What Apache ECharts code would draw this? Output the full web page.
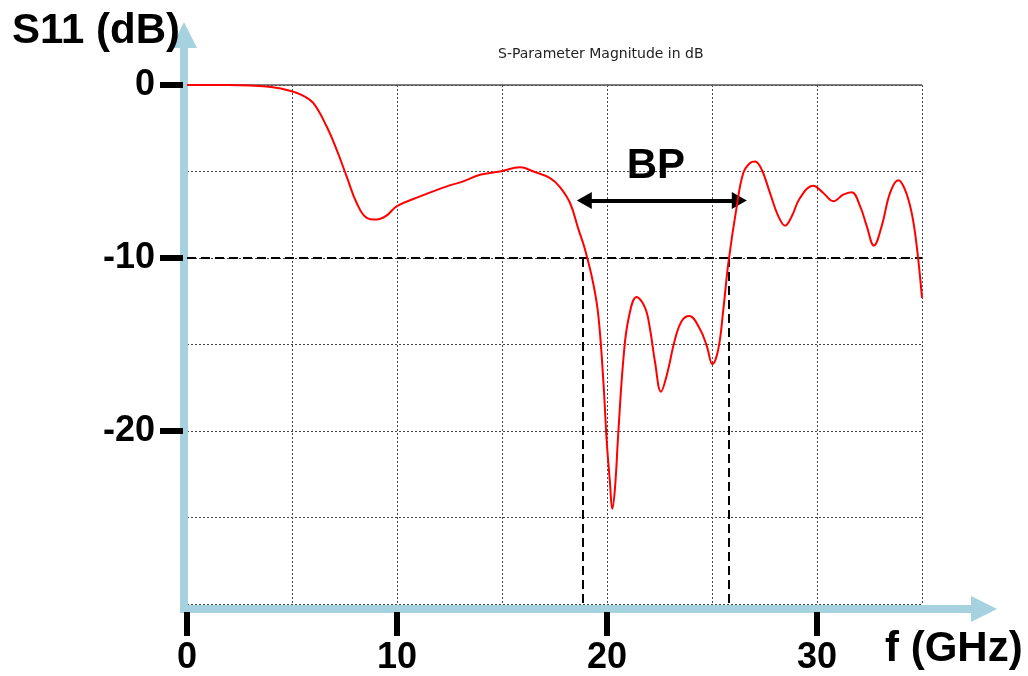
<!DOCTYPE html>
<html>
<head>
<meta charset="utf-8">
<title>S11</title>
<script src="https://cdn.jsdelivr.net/npm/echarts@6.0.0/dist/echarts.min.js"></script>
<style>
  html, body { margin: 0; padding: 0; background: #fff; }
  #chart { width: 1028px; height: 676px; }
</style>
</head>
<body>
<div id="chart"></div>
<script>
// 频率 (GHz)
const freq = [
  0, 1, 2, 3, 4, 4.9, 5.5, 6.02, 6.65, 7.13, 7.6, 8.08, 8.56, 9.03, 9.5, 10.0,
  11.1, 12.37, 13.15, 13.95, 14.9, 15.86, 16.5, 17.29, 17.76, 18.24, 18.63, 18.95,
  19.35, 19.59, 19.83, 19.99, 20.14, 20.25, 20.38, 20.54, 20.78, 21.02, 21.41, 21.81,
  22.05, 22.29, 22.57, 22.84, 23.24, 23.56, 23.92, 24.43, 24.75, 25.02, 25.3, 25.54,
  25.78, 26.18, 26.49, 26.81, 27.05, 27.37, 27.76, 28.16, 28.48, 28.8, 29.19, 29.82,
  30.3, 30.78, 31.25, 31.65, 32.05, 32.37, 32.71, 33.08, 33.48, 33.87, 34.19, 34.51,
  34.75, 35.0
];
// S11 (dB)
const s11 = [
  0, 0, 0, -0.03, -0.12, -0.33, -0.6, -1.05, -2.4, -3.75, -5.28, -6.82, -7.68, -7.78, -7.55, -7.0,
  -6.44, -5.86, -5.57, -5.19, -5.0, -4.76, -5.0, -5.38, -5.9, -6.82, -8.3, -9.5,
  -11.5, -13.35, -17.2, -20.65, -22.96, -24.5, -23.3, -20.07, -15.85, -13.54, -12.25, -12.87,
  -14.12, -16.04, -17.73, -16.8, -14.7, -13.64, -13.35, -14.12, -15.08, -16.14, -15.27, -12.97,
  -10.28, -7.0, -5.09, -4.51, -4.42, -4.9, -6.24, -7.59, -8.13, -7.59, -6.53, -5.82,
  -6.24, -6.72, -6.34, -6.2, -7.0, -8.16, -9.28, -8.16, -6.24, -5.51, -6.05, -7.4,
  -9.32, -12.3
];
// 刻度
const xTicks = [0, 10, 20, 30];
const yTicks = [0, -10, -20];
// -10 dB 参考线 与 通带边界
const refLevel = -10;
const bandEdges = [18.86, 25.81];
// BP 箭头
const bpRange = [18.92, 26.3];
const bpLevel = -6.67;
const bpLabelPos = [22.33, -4.73];

const chart = echarts.init(document.getElementById('chart'));

const blue = '#a6d1df';
const tickFont = {
  fontSize: 36,
  fontWeight: 'bold',
  fontFamily: 'Liberation Sans, Arial, sans-serif',
  color: '#000'
};
const gridLine = { color: '#444', width: 1, type: [2, 2] };
const blackDash = { color: '#000', width: 2, type: [9, 5] };

// 浅蓝色带箭头的坐标轴
const arrowAxis = {
  type: 'value',
  gridIndex: 1,
  min: 0,
  max: 1,
  axisLine: {
    show: true,
    symbol: ['none', 'triangle'],
    symbolSize: [26, 26],
    lineStyle: { color: blue, width: 8, cap: 'square' }
  },
  axisTick: { show: false },
  axisLabel: { show: false },
  splitLine: { show: false }
};

// 只画网格线的坐标轴
function gridAxis(min, max) {
  return {
    type: 'value',
    gridIndex: 0,
    min: min,
    max: max,
    interval: 5,
    axisLine: { show: false, onZero: false },
    axisTick: { show: false },
    axisLabel: { show: false },
    splitLine: { show: true, lineStyle: gridLine }
  };
}

const option = {
  animation: false,
  title: [
    {
      text: 'S-Parameter Magnitude in dB',
      left: 493,
      top: 42,
      textStyle: { fontSize: 14, fontWeight: 'normal', fontFamily: 'DejaVu Sans', color: '#222' }
    },
    {
      text: 'S11 (dB)',
      left: 7,
      top: 5,
      textStyle: { fontSize: 42, fontWeight: 'bold', fontFamily: 'Liberation Sans, Arial', color: '#000' }
    },
    {
      text: 'f (GHz)',
      left: 880,
      top: 623,
      textStyle: { fontSize: 42, fontWeight: 'bold', fontFamily: 'Liberation Sans, Arial', color: '#000' }
    }
  ],
  grid: [
    // 数据区
    { left: 187, right: 106, top: 85, bottom: 71 },
    // 箭头坐标轴
    { left: 184, right: 44, top: 35, bottom: 67 }
  ],
  xAxis: [
    {
      type: 'value',
      gridIndex: 0,
      min: 0,
      max: 35,
      interval: 5,
      offset: 8,
      axisLine: { show: false, onZero: false },
      axisTick: {
        show: true,
        customValues: xTicks,
        length: 24,
        lineStyle: { color: '#000', width: 6 }
      },
      axisLabel: Object.assign({ customValues: xTicks, margin: 28 }, tickFont),
      splitLine: { show: false }
    },
    arrowAxis,
    gridAxis(0, 35)
  ],
  yAxis: [
    {
      type: 'value',
      gridIndex: 0,
      min: -30,
      max: 0,
      interval: 5,
      offset: 4,
      axisLine: { show: false, onZero: false },
      axisTick: {
        show: true,
        customValues: yTicks,
        length: 23,
        lineStyle: { color: '#000', width: 6 }
      },
      axisLabel: Object.assign({ customValues: yTicks, margin: 28 }, tickFont),
      splitLine: { show: false }
    },
    arrowAxis,
    gridAxis(-30, 0)
  ],
  series: [
    {
      type: 'line',
      xAxisIndex: 0,
      yAxisIndex: 0,
      z: 10,
      data: freq.map((f, i) => [f, s11[i]]),
      showSymbol: false,
      smooth: 0.4,
      lineStyle: { color: '#ff0000', width: 2 },
      markLine: {
        silent: true,
        z: 5,
        symbol: 'none',
        label: { show: false },
        data: [
          // 0 dB 顶线
          { yAxis: 0, lineStyle: { color: '#555', width: 1.5, type: 'solid' } },
          // -10 dB
          { yAxis: refLevel, lineStyle: blackDash },
          [
            { coord: [bandEdges[0], refLevel], lineStyle: blackDash },
            { coord: [bandEdges[0], -30] }
          ],
          [
            { coord: [bandEdges[1], refLevel], lineStyle: blackDash },
            { coord: [bandEdges[1], -30] }
          ],
          // BP 双向箭头
          [
            {
              coord: [bpRange[0], bpLevel],
              symbol: 'triangle',
              symbolSize: [17, 15],
              lineStyle: { color: '#000', width: 4, type: 'solid' }
            },
            { coord: [bpRange[1], bpLevel], symbol: 'triangle', symbolSize: [17, 15] }
          ]
        ]
      },
      markPoint: {
        silent: true,
        symbol: 'circle',
        symbolSize: 0,
        data: [{ coord: bpLabelPos, value: 'BP' }],
        label: {
          show: true,
          position: 'inside',
          formatter: 'BP',
          fontSize: 42,
          fontWeight: 'bold',
          fontFamily: 'Liberation Sans, Arial',
          color: '#000'
        }
      }
    }
  ]
};

chart.setOption(option);
</script>
</body>
</html>
